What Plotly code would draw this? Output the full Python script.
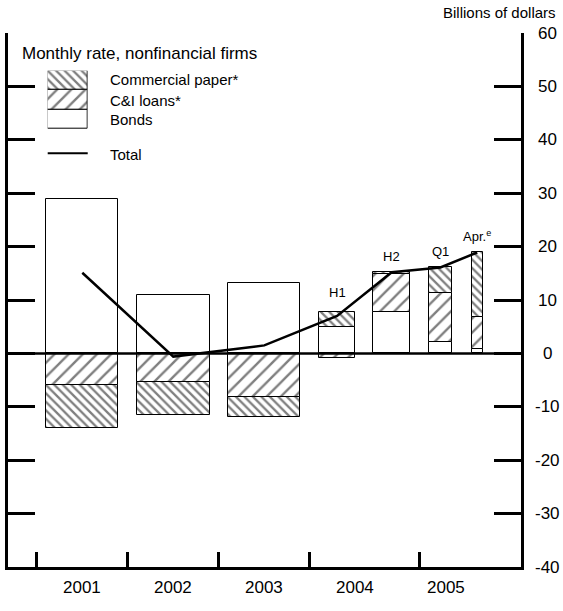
import plotly.graph_objects as go

# Net external financing of nonfinancial firms, monthly rate (billions of dollars)
periods = ["2001", "2002", "2003", "2004 H1", "2004 H2", "2005 Q1", "2005 Apr."]
period_tags = ["", "", "", "H1", "H2", "Q1", "Apr.<sup>e</sup>"]
bonds = [28.9, 10.9, 13.2, 4.9, 7.8, 2.1, 0.8]
ci_loans = [-5.9, -5.3, -8.1, -0.9, 7.1, 9.3, 6.1]
commercial_paper = [-8.0, -6.3, -3.9, 2.8, 0.4, 4.7, 12.0]
total = [15.1, -0.6, 1.5, 7.0, 15.2, 16.1, 18.9]
year_labels = ["2001", "2002", "2003", "2004", "2005"]
y_tick_values = [60, 50, 40, 30, 20, 10, 0, -10, -20, -30, -40]

# Slot layout on a year-based x scale
slot_center = [2001.5, 2002.5, 2003.5, 2004.3, 2004.9, 2005.435, 2005.84]
slot_width = [0.79, 0.8, 0.79, 0.40, 0.40, 0.26, 0.12]
year_centers = [int(y) + 0.5 for y in year_labels]
x_ticks = [2001, 2002, 2003, 2004, 2005.21]
tag_shift = [0, 0, 0, 10, 6, 6, 6]

FONT = "Liberation Sans, Arial, sans-serif"
cp_pattern = dict(shape="\\", size=6, solidity=0.38, fgcolor="black", bgcolor="white")
ci_pattern = dict(shape="/", size=10, solidity=0.24, fgcolor="black", bgcolor="white")
outline = dict(color="black", width=1)

fig = go.Figure()
fig.add_trace(go.Bar(x=slot_center, y=bonds, width=slot_width, name="Bonds",
                     marker=dict(color="white", line=outline)))
fig.add_trace(go.Bar(x=slot_center, y=ci_loans, width=slot_width, name="C&I loans*",
                     marker=dict(color="white", pattern=ci_pattern, line=outline)))
fig.add_trace(go.Bar(x=slot_center, y=commercial_paper, width=slot_width, name="Commercial paper*",
                     marker=dict(color="white", pattern=cp_pattern, line=outline)))
fig.add_trace(go.Scatter(x=slot_center, y=total, mode="lines", name="Total",
                         line=dict(color="black", width=2.5)))

# Legend swatches drawn on a small inset axis
for name, pat in [("Bonds", None), ("C&I loans*", ci_pattern), ("Commercial paper*", cp_pattern)]:
    m = dict(color="white", line=outline)
    if pat:
        m["pattern"] = pat
    fig.add_trace(go.Bar(x=[0], y=[1], width=1, marker=m, xaxis="x3", yaxis="y3",
                         cliponaxis=False, showlegend=False, hoverinfo="skip"))

axis_common = dict(showgrid=False, zeroline=False, showline=True, linewidth=3,
                   linecolor="black", ticks="inside", tickcolor="black")

fig.update_layout(
    width=563, height=611,
    margin=dict(l=8, r=42, t=33, b=44),
    paper_bgcolor="white", plot_bgcolor="white",
    barmode="relative", bargap=0, showlegend=False,
    font=dict(family=FONT, color="black", size=16),
    xaxis=dict(range=[2000.6835, 2006.321], tickvals=x_ticks, ticklen=15, tickwidth=2.5,
               showticklabels=False, **axis_common),
    yaxis=dict(range=[-40, 60], side="right", tickvals=y_tick_values, ticklen=27, tickwidth=3,
               showticklabels=False, anchor="x", **axis_common),
    yaxis2=dict(range=[-40, 60], side="left", overlaying="y", tickvals=y_tick_values, ticklen=27,
                tickwidth=3, showticklabels=False, anchor="x", **axis_common),
    xaxis3=dict(domain=[0.0774, 0.1554], range=[-0.5, 0.5], visible=False, anchor="y3"),
    yaxis3=dict(domain=[0.8202, 0.9294], range=[0, 3], visible=False, anchor="x3"),
)

# keeps the left-hand axis drawn
fig.add_trace(go.Scatter(x=[slot_center[0]], y=[0], yaxis="y2", mode="markers",
                         marker=dict(opacity=0), showlegend=False, hoverinfo="skip"))

shapes = [
    dict(type="line", xref="paper", yref="y", x0=0, x1=1, y0=0, y1=0,
         line=dict(color="black", width=2.5), layer="above"),
    dict(type="line", xref="paper", yref="paper", x0=0.0774, x1=0.1554, y0=0.7747, y1=0.7747,
         line=dict(color="black", width=2)),
]

annotations = []
for v in y_tick_values:
    annotations.append(dict(xref="paper", yref="y", x=1.0526, y=v, text=str(v), showarrow=False,
                            xanchor="center", yanchor="middle", font=dict(size=17)))
for xc, lab in zip(year_centers, year_labels):
    annotations.append(dict(xref="x", yref="paper", x=xc, y=-0.0375, text=lab, showarrow=False,
                            xanchor="center", yanchor="middle", font=dict(size=17)))
for xc, tag, b, c, p, s in zip(slot_center, period_tags, bonds, ci_loans, commercial_paper, tag_shift):
    if tag:
        top = sum(v for v in (b, c, p) if v > 0)
        annotations.append(dict(xref="x", yref="y", x=xc, y=top, text=tag, showarrow=False,
                                xanchor="center", yanchor="bottom", yshift=s, font=dict(size=13)))

annotations += [
    dict(xref="paper", yref="paper", x=1.072, y=1.0375, text="Billions of dollars",
         showarrow=False, xanchor="right", yanchor="middle", font=dict(size=15)),
    dict(xref="paper", yref="paper", x=0.0234, y=0.962, text="Monthly rate, nonfinancial firms",
         showarrow=False, xanchor="left", yanchor="middle", font=dict(size=17)),
    dict(xref="paper", yref="paper", x=0.1943, y=0.912, text="Commercial paper*",
         showarrow=False, xanchor="left", yanchor="middle", font=dict(size=15)),
    dict(xref="paper", yref="paper", x=0.1943, y=0.8745, text="C&I loans*",
         showarrow=False, xanchor="left", yanchor="middle", font=dict(size=15)),
    dict(xref="paper", yref="paper", x=0.1943, y=0.8384, text="Bonds",
         showarrow=False, xanchor="left", yanchor="middle", font=dict(size=15)),
    dict(xref="paper", yref="paper", x=0.1943, y=0.7734, text="Total",
         showarrow=False, xanchor="left", yanchor="middle", font=dict(size=15)),
]

fig.update_layout(shapes=shapes, annotations=annotations)
fig.write_html("out.html")
